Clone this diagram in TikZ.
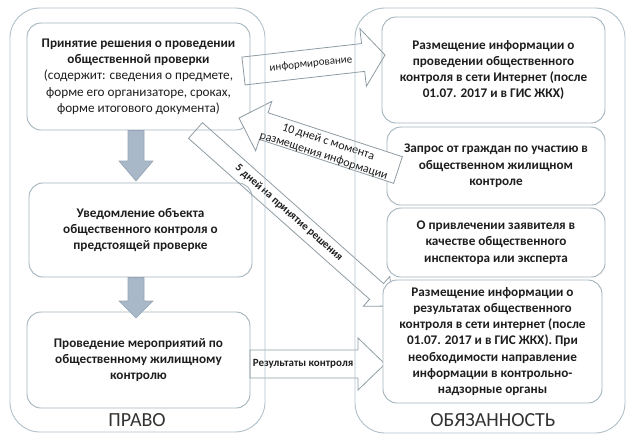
\documentclass[tikz,border=0pt]{standalone}
\usepackage{fontspec}
\setmainfont{Carlito}
\usetikzlibrary{calc}
\definecolor{boxline}{HTML}{A3B3BC}
\definecolor{contline}{HTML}{B0C0C8}
\definecolor{arrline}{HTML}{8E9BA3}
\definecolor{downfill}{HTML}{A9B8C8}
\definecolor{downline}{HTML}{95A5B5}
\definecolor{txt}{HTML}{1E1E1E}
\definecolor{lbl}{HTML}{333333}
% block arrow: [style]{from}{to}{shaft width}{head width}{head length}
\newcommand\barrow[6][]{%
  \path (#2); \pgfgetlastxy{\bax}{\bay}%
  \path (#3); \pgfgetlastxy{\bbx}{\bby}%
  \pgfmathsetmacro\bang{atan2((\bby)-(\bay),(\bbx)-(\bax))}%
  \pgfmathsetmacro\blen{veclen((\bbx)-(\bax),(\bby)-(\bay))}%
  \pgfmathsetmacro\bhb{\blen-#6}%
  \pgfmathsetmacro\bsw{#4/2}%
  \pgfmathsetmacro\bhw{#5/2}%
  \begin{scope}[shift={(#2)},rotate=\bang]
    \draw[#1] (0pt,-\bsw pt) -- (\bhb pt,-\bsw pt) -- (\bhb pt,-\bhw pt) -- (\blen pt,0pt)
      -- (\bhb pt,\bhw pt) -- (\bhb pt,\bsw pt) -- (0pt,\bsw pt) -- cycle;
  \end{scope}}
\begin{document}
\begin{tikzpicture}[x=1pt,y=-1pt,
  box/.style={draw=boxline, line width=0.9pt, fill=white, rounded corners=14pt,
    align=center, font=\bfseries\fontsize{13.2}{16.3}\selectfont, text=txt, inner sep=0pt},
  cont/.style={draw=contline, line width=0.9pt, rounded corners=30pt},
  downarr/.style={fill=downfill, draw=downline, line width=0.6pt},
  blockarr/.style={draw=arrline, line width=0.8pt},
  blockarrw/.style={draw=arrline, line width=0.8pt, fill=white},
  alabel/.style={font=\fontsize{11}{14}\selectfont, text=txt, inner sep=0pt, align=center},
  blabel/.style={font=\bfseries\fontsize{11}{13}\selectfont, text=txt, inner sep=0pt},
  biglabel/.style={font=\fontsize{20}{24}\selectfont, text=lbl, inner sep=0pt}]
\useasboundingbox (0,0) rectangle (632,440);

% boxes (left column)
\node[box, minimum width=223pt, minimum height=107pt] (b1) at (138.5,76.5)
  {\textbf{Принятие решения о проведении}\\ \textbf{общественной проверки}\\
   \mdseries (содержит: сведения о предмете,\\ \mdseries форме его организаторе, сроках,\\
   \mdseries форме итогового документа)};
\node[box, minimum width=223pt, minimum height=94pt] (b2) at (140.5,230)
  {Уведомление объекта\\ общественного контроля о\\ предстоящей проверке};
\node[box, minimum width=223pt, minimum height=96pt] (b3) at (138.5,360)
  {Проведение мероприятий по\\ общественному жилищному\\ контролю};

% boxes (right column)
\node[box, minimum width=223pt, minimum height=106pt] (r1) at (493.5,70)
  {Размещение информации о\\ проведении общественного\\ контроля в сети Интернет (после\\ 01.07. 2017 и в ГИС ЖКХ)};
\node[box, minimum width=218pt, minimum height=78pt] (r2) at (496,166)
  {Запрос от граждан по участию в\\ общественном жилищном\\ контроле};
\node[box, minimum width=218pt, minimum height=69pt] (r3) at (496,242.5)
  {О привлечении заявителя в\\ качестве общественного\\ инспектора или эксперта};

% down arrows
\coordinate (d1a) at (136,130.5);
\coordinate (d1b) at (136,181);
\coordinate (d2a) at (136,277.5);
\coordinate (d2b) at (136,318);
\barrow[downarr]{d1a}{d1b}{16}{34}{20}
\barrow[downarr]{d2a}{d2b}{16}{34}{17}

% block arrows
\coordinate (f5a) at (195.5,130.5);
\coordinate (f5b) at (393,306);
\barrow[blockarr]{f5a}{f5b}{21}{40}{22}
\coordinate (i1a) at (243.5,71);
\coordinate (i1b) at (385,55);
\barrow[blockarr]{i1a}{i1b}{28}{58}{22}
\coordinate (k1a) at (250,364);
\coordinate (k1b) at (385,364);
\barrow[blockarr]{k1a}{k1b}{28}{52}{27}
\coordinate (t1a) at (398,170);
\coordinate (t1b) at (239,118);
\barrow[blockarrw]{t1a}{t1b}{28}{52}{26}

\node[box, minimum width=219pt, minimum height=123pt] (r4) at (492.5,341.5)
  {Размещение информации о\\ результатах общественного\\ контроля в сети интернет (после\\ 01.07. 2017 и в ГИС ЖКХ). При\\ необходимости направление\\ информации в контрольно-\\ надзорные органы};

% arrow labels
\node[alabel, rotate=6] (lab1) at (311,64) {информирование};
\node[alabel, rotate=-18, font=\fontsize{12}{14.5}\selectfont] (lab2) at (326,149) {10 дней с момента\\ размещения информации};
\node[blabel, rotate=-41.5] (lab3) at (289,213) {5 дней на принятие решения};
\node[blabel] (lab4) at (303,364) {Результаты контроля};

% containers
\draw[cont] (10,8) rectangle (265,432);
\draw[cont] (355,8) rectangle (625,433);
\node[biglabel] (pravo) at (137,420) {ПРАВО};
\node[biglabel] (obyaz) at (493,420) {ОБЯЗАННОСТЬ};
\end{tikzpicture}
\end{document}
